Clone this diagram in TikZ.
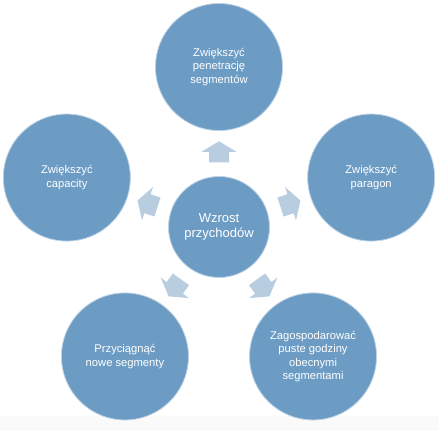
\documentclass[tikz,border=0pt]{standalone}
\usepackage{fontspec}
\setmainfont{Liberation Sans}
\usetikzlibrary{calc}
\definecolor{goalblue}{RGB}{108,156,196}
\definecolor{arrowblue}{RGB}{185,205,225}
\tikzset{
	goal/.style={circle, fill=goalblue, draw=goalblue!45!white, line width=0.8pt, minimum size=127pt, inner sep=0pt, text=white, align=center, font=\fontsize{11.2}{13.5}\selectfont},
	hub/.style={goal, minimum size=101pt, font=\fontsize{13}{15}\selectfont},
	blockarrow/.style={fill=arrowblue}
}

\begin{document}
\begin{tikzpicture}[x=1pt, y=1pt]
				\useasboundingbox (0,0) rectangle (439,431);
				\fill[gray!4] (0,0) rectangle (439,15);
				% hub and goals
				\node[hub] (zysk) at (219,204) {Wzrost\\przychodów};
				\node[goal] (penetracja) at ($(zysk)+(90:160)$) {Zwiększyć\\penetrację\\segmentów};
				\node[goal] (paragon) at ($(zysk)+(18:160)$) {Zwiększyć\\paragon};
				\node[goal] (capacity) at ($(zysk)+(162:160)$) {Zwiększyć\\capacity};
				\node[goal] (puste) at ($(zysk)+(-54:160)$) {Zagospodarować\\puste godziny\\obecnymi\\segmentami};
				\node[goal] (nowe) at ($(zysk)+(-126:160)$) {Przyciągnąć\\nowe segmenty};
				% arrows
				\foreach \g/\a in {penetracja/90, paragon/18, capacity/162, puste/-54, nowe/-126}
					\fill[blockarrow, shift={($(zysk)!0.47!(\g)$)}, rotate=\a]
						(-10.5,-10) -- (0,-10) -- (0,-17.5) -- (10.5,0) -- (0,17.5) -- (0,10) -- (-10.5,10) -- cycle;
\end{tikzpicture}
\end{document}
